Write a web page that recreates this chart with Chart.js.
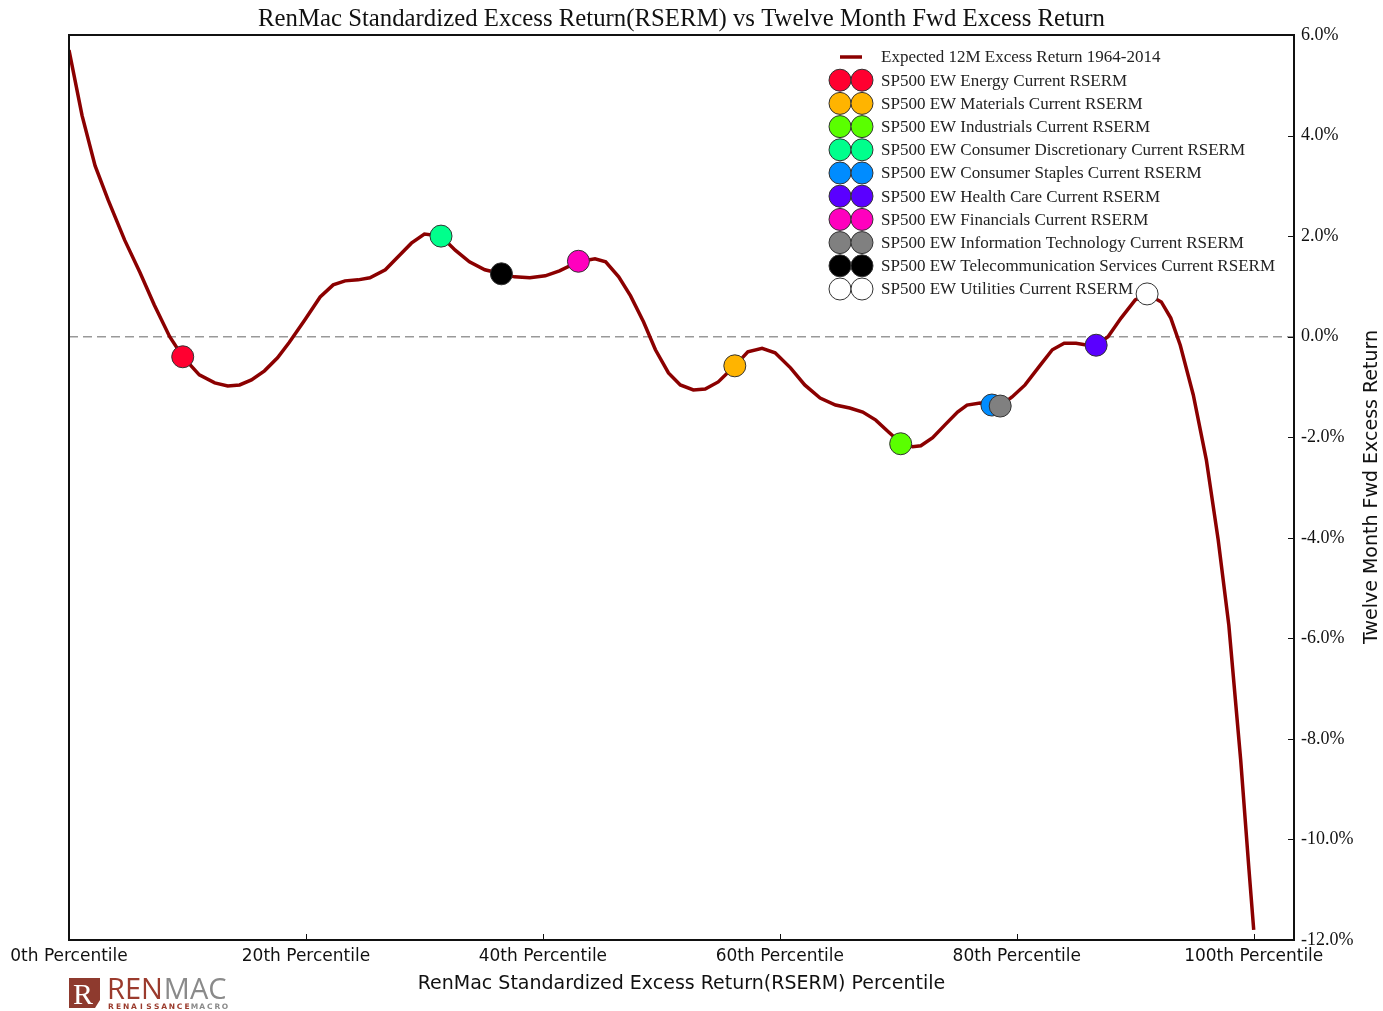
<!DOCTYPE html>
<html>
<head>
<meta charset="utf-8">
<script src="https://cdn.jsdelivr.net/npm/chart.js@4.4.1/dist/chart.umd.min.js"></script>
<style>
  html, body { margin: 0; padding: 0; background: #ffffff; }
  #wrap { width: 1383px; height: 1011px; position: relative; }
</style>
</head>
<body>
<div id="wrap"><canvas id="chart" width="1383" height="1011"></canvas></div>
<script>
// Expected 12-month forward excess return by RSERM percentile (1964-2014)
const percentiles = [
  0, 1.1, 2.2, 3.3, 4.7, 6.0, 7.2, 8.5, 9.6, 11.0,
  12.3, 13.4, 14.4, 15.4, 16.5, 17.6, 18.6, 19.9, 21.2, 22.3,
  23.3, 24.4, 25.4, 26.7, 27.9, 28.9, 30.0, 31.4, 32.6, 33.8,
  35.1, 36.5, 37.6, 38.9, 40.2, 41.4, 43.0, 44.4, 45.3, 46.4,
  47.4, 48.5, 49.5, 50.6, 51.6, 52.7, 53.7, 54.8, 56.2, 57.3,
  58.5, 59.6, 60.9, 62.1, 63.4, 64.7, 65.9, 67.0, 68.1, 69.2,
  70.2, 71.2, 71.9, 72.9, 74.0, 75.0, 75.8, 76.9, 77.9, 78.6,
  79.6, 80.7, 82.0, 83.0, 84.0, 85.0, 86.0, 86.7, 87.7, 88.8,
  90.0, 91.0, 92.2, 93.0, 93.8, 94.9, 96.0, 97.0, 97.9, 98.9,
  99.6, 100
];
const expectedReturn = [
  5.70, 4.40, 3.40, 2.72, 1.92, 1.27, 0.63, 0.0, -0.40, -0.76,
  -0.92, -0.98, -0.96, -0.86, -0.68, -0.42, -0.11, 0.33, 0.79, 1.03,
  1.11, 1.13, 1.17, 1.33, 1.62, 1.86, 2.04, 2.00, 1.72, 1.49,
  1.33, 1.25, 1.19, 1.17, 1.21, 1.31, 1.49, 1.55, 1.49, 1.19,
  0.81, 0.29, -0.26, -0.72, -0.96, -1.06, -1.04, -0.90, -0.58, -0.30,
  -0.23, -0.32, -0.62, -0.96, -1.22, -1.36, -1.42, -1.50, -1.66, -1.90,
  -2.11, -2.19, -2.17, -2.01, -1.74, -1.50, -1.36, -1.32, -1.36, -1.38,
  -1.20, -0.96, -0.56, -0.26, -0.13, -0.13, -0.17, -0.17, 0.0, 0.37,
  0.73, 0.85, 0.69, 0.37, -0.17, -1.16, -2.45, -4.04, -5.74, -8.42,
  -10.60, -11.80
];

// Current RSERM reading of each S&P 500 equal-weight sector
const sectorNames = [
  'SP500 EW Energy Current RSERM',
  'SP500 EW Materials Current RSERM',
  'SP500 EW Industrials Current RSERM',
  'SP500 EW Consumer Discretionary Current RSERM',
  'SP500 EW Consumer Staples Current RSERM',
  'SP500 EW Health Care Current RSERM',
  'SP500 EW Financials Current RSERM',
  'SP500 EW Information Technology Current RSERM',
  'SP500 EW Telecommunication Services Current RSERM',
  'SP500 EW Utilities Current RSERM'
];
const sectorPercentile = [9.6, 56.2, 70.2, 31.4, 77.9, 86.7, 43.0, 78.6, 36.5, 91.0];
const sectorReturn     = [-0.40, -0.58, -2.13, 2.00, -1.36, -0.17, 1.50, -1.38, 1.25, 0.85];
const sectorColors = [
  '#ff0030', '#ffb400', '#5aff00', '#00ff8c', '#008cff',
  '#5a00ff', '#ff00be', '#808080', '#000000', '#ffffff'
];

const curveLabel = 'Expected 12M Excess Return 1964-2014';
const chartTitle = 'RenMac Standardized Excess Return(RSERM) vs Twelve Month Fwd Excess Return';
const xTitle = 'RenMac Standardized Excess Return(RSERM) Percentile';
const yTitle = 'Twelve Month Fwd Excess Return';
const xTicks = [0, 20, 40, 60, 80, 100];
const yTicks = [6, 4, 2, 0, -2, -4, -6, -8, -10, -12];

const CURVE_COLOR = '#8b0000';

const datasets = [{
  label: curveLabel,
  data: percentiles.map((p, i) => ({ x: p, y: expectedReturn[i] })),
  borderColor: CURVE_COLOR,
  borderWidth: 3.5,
  pointRadius: 0,
  tension: 0,
  fill: false,
  order: 100
}];
sectorNames.forEach((name, i) => {
  datasets.push({
    label: name,
    data: [{ x: sectorPercentile[i], y: sectorReturn[i] }],
    showLine: false,
    pointRadius: 11,
    pointHoverRadius: 11,
    pointBackgroundColor: sectorColors[i],
    pointBorderColor: '#333333',
    pointBorderWidth: 1,
    order: 20 - i
  });
});

// zero reference line, frame and inward tick marks
const framePlugin = {
  id: 'frame',
  beforeDatasetsDraw(chart) {
    const { ctx, chartArea: a, scales: { y } } = chart;
    const y0 = y.getPixelForValue(0);
    ctx.save();
    ctx.strokeStyle = '#999999';
    ctx.lineWidth = 1.5;
    ctx.setLineDash([9, 5]);
    ctx.beginPath();
    ctx.moveTo(a.left, y0);
    ctx.lineTo(a.right, y0);
    ctx.stroke();
    ctx.restore();
  },
  afterDraw(chart) {
    const { ctx, chartArea: a, scales: { x, y } } = chart;
    ctx.save();
    ctx.strokeStyle = '#111111';
    ctx.lineWidth = 1;
    xTicks.forEach(v => {
      const px = Math.round(x.getPixelForValue(v)) + 0.5;
      ctx.beginPath(); ctx.moveTo(px, a.bottom); ctx.lineTo(px, a.bottom - 6); ctx.stroke();
    });
    yTicks.forEach(v => {
      const py = Math.round(y.getPixelForValue(v)) + 0.5;
      ctx.beginPath(); ctx.moveTo(a.right, py); ctx.lineTo(a.right - 6, py); ctx.stroke();
    });
    ctx.lineWidth = 2;
    ctx.strokeRect(a.left, a.top, a.right - a.left, a.bottom - a.top);
    ctx.restore();
  }
};

// legend with a line sample and paired markers
const legendPlugin = {
  id: 'pairLegend',
  afterDatasetsDraw(chart) {
    const { ctx } = chart;
    const x1 = 840, x2 = 862, tx = 881, y0 = 57, dy = 23.2;
    ctx.save();
    ctx.font = '17px "Liberation Serif", serif';
    ctx.textBaseline = 'middle';
    ctx.fillStyle = '#222222';
    ctx.strokeStyle = CURVE_COLOR;
    ctx.lineWidth = 3.5;
    ctx.beginPath(); ctx.moveTo(x1, y0); ctx.lineTo(x2, y0); ctx.stroke();
    ctx.fillText(curveLabel, tx, y0 + 1);
    sectorNames.forEach((name, i) => {
      const yy = y0 + dy * (i + 1);
      [x1, x2].forEach(cx => {
        ctx.beginPath();
        ctx.arc(cx, yy, 11, 0, Math.PI * 2);
        ctx.fillStyle = sectorColors[i];
        ctx.fill();
        ctx.strokeStyle = '#333333';
        ctx.lineWidth = 1;
        ctx.stroke();
      });
      ctx.fillStyle = '#222222';
      ctx.fillText(name, tx, yy + 1);
    });
    ctx.restore();
  }
};

// titles and brand mark
const textPlugin = {
  id: 'texts',
  afterDraw(chart) {
    const { ctx, chartArea: a } = chart;
    const cx = (a.left + a.right) / 2;
    ctx.save();
    // main title, condensed serif
    ctx.font = '26px "Liberation Serif", serif';
    ctx.textAlign = 'center';
    ctx.textBaseline = 'middle';
    ctx.fillStyle = '#111111';
    const w = ctx.measureText(chartTitle).width;
    const sx = 847 / w;
    ctx.save();
    ctx.translate(cx, 19);
    ctx.scale(sx, 1);
    ctx.fillText(chartTitle, 0, 0);
    ctx.restore();

    // axis titles
    ctx.font = '19px "DejaVu Sans", sans-serif';
    ctx.fillText(xTitle, cx, 984);
    ctx.save();
    ctx.translate(1372, 487);
    ctx.rotate(-Math.PI / 2);
    ctx.fillText(yTitle, 0, 0);
    ctx.restore();

    // brand mark
    const brown = '#8e3a2e';
    ctx.fillStyle = brown;
    ctx.beginPath();
    ctx.moveTo(69, 978); ctx.lineTo(100, 978); ctx.lineTo(100, 1000);
    ctx.lineTo(95, 1008); ctx.lineTo(69, 1008); ctx.closePath();
    ctx.fill();
    ctx.fillStyle = '#ffffff';
    ctx.font = '30px "Liberation Serif", serif';
    ctx.textAlign = 'left';
    ctx.textBaseline = 'alphabetic';
    ctx.fillText('R', 73, 1004);
    ctx.font = '29px "Open Sans", sans-serif';
    ctx.fillStyle = '#9b3b2d';
    ctx.fillText('REN', 107, 999);
    const wr = ctx.measureText('REN').width;
    ctx.fillStyle = '#8a8a8a';
    ctx.fillText('MAC', 107 + wr + 1, 999);
    ctx.font = 'bold 7.5px "DejaVu Sans", sans-serif';
    const sub = 'RENAISSANCEMACRO';
    const step = (225 - 111) / (sub.length - 1);
    ctx.textAlign = 'center';
    for (let i = 0; i < sub.length; i++) {
      ctx.fillStyle = i < 11 ? '#9b3b2d' : '#8a8a8a';
      ctx.fillText(sub[i], 111 + i * step, 1009);
    }
    ctx.restore();
  }
};

new Chart(document.getElementById('chart'), {
  type: 'line',
  data: { datasets },
  options: {
    responsive: false,
    animation: false,
    devicePixelRatio: 1,
    events: [],
    layout: { padding: { left: 69, top: 35, right: 0, bottom: 0 } },
    plugins: {
      legend: { display: false },
      title: { display: false },
      tooltip: { enabled: false }
    },
    scales: {
      x: {
        type: 'linear',
        position: 'bottom',
        min: 0,
        max: 103.4,
        afterBuildTicks: s => { s.ticks = xTicks.map(v => ({ value: v })); },
        afterFit: s => { s.height = 71; },
        grid: { display: false, drawTicks: false },
        border: { display: false },
        ticks: {
          autoSkip: false,
          maxRotation: 0,
          padding: 6,
          color: '#111111',
          font: { family: '"DejaVu Sans", sans-serif', size: 17 },
          callback: v => v + 'th Percentile'
        }
      },
      y: {
        type: 'linear',
        position: 'right',
        min: -12,
        max: 6,
        afterBuildTicks: s => { s.ticks = yTicks.map(v => ({ value: v })); },
        afterFit: s => { s.width = 89; },
        grid: { display: false, drawTicks: false },
        border: { display: false },
        ticks: {
          padding: 7,
          color: '#111111',
          font: { family: '"Liberation Serif", serif', size: 18 },
          callback: v => v.toFixed(1) + '%'
        }
      }
    }
  },
  plugins: [framePlugin, legendPlugin, textPlugin]
});
</script>
</body>
</html>
